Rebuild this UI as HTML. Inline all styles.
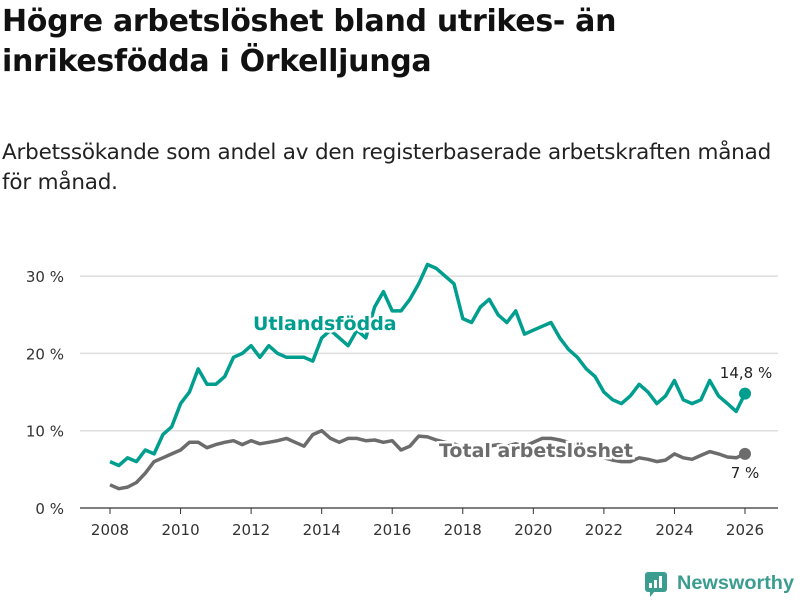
<!DOCTYPE html>
<html><head><meta charset="utf-8"><style>
body{margin:0;width:800px;height:600px;background:#fff;font-family:"Liberation Sans","DejaVu Sans",sans-serif;overflow:hidden;position:relative}
h1{position:absolute;left:2px;top:2px;margin:0;font-size:30px;line-height:40px;font-weight:bold;color:#111;font-family:"DejaVu Sans",sans-serif;letter-spacing:-0.3px}
.sub{position:absolute;left:2px;top:138px;font-size:21.5px;line-height:30px;color:#222;font-family:"DejaVu Sans",sans-serif;letter-spacing:-0.2px;white-space:nowrap}
svg{position:absolute;left:0;top:0}
</style></head><body>
<h1>Högre arbetslöshet bland utrikes- än<br>inrikesfödda i Örkelljunga</h1>
<div class="sub">Arbetssökande som andel av den registerbaserade arbetskraften månad<br>för månad.</div>
<svg id="c" width="800" height="600"></svg>
<script>
const years=[2008,2010,2012,2014,2016,2018,2020,2022,2024,2026];
const yTicks=[0,10,20,30];
const start=2008, step=0.25;
const foreign=[6,5.5,6.5,6,7.5,7,9.5,10.5,13.5,15,18,16,16,17,19.5,20,21,19.5,21,20,19.5,19.5,19.5,19,22,23,22,21,23,22,26,28,25.5,25.5,27,29,31.5,31,30,29,24.5,24,26,27,25,24,25.5,22.5,23,23.5,24,22,20.5,19.5,18,17,15,14,13.5,14.5,16,15,13.5,14.5,16.5,14,13.5,14,16.5,14.5,13.5,12.5,14.8];
const total=[3,2.5,2.7,3.3,4.5,6,6.5,7,7.5,8.5,8.5,7.8,8.2,8.5,8.7,8.2,8.7,8.3,8.5,8.7,9,8.5,8,9.5,10,9,8.5,9,9,8.7,8.8,8.5,8.7,7.5,8,9.3,9.2,8.8,8.5,8.3,7.8,7.5,7.8,8,8.2,8,8.3,8,8.5,9,9,8.8,8.5,8,7.5,7,6.5,6.2,6,6,6.5,6.3,6,6.2,7,6.5,6.3,6.8,7.3,7,6.6,6.5,7];
const X=y=>110+(y-2008)*(745-110)/18;
const Y=v=>508-v*7.73;
const svg=document.getElementById('c');
const NS='http://www.w3.org/2000/svg';
function mk(t,a,txt){const e=document.createElementNS(NS,t);for(const k in a)e.setAttribute(k,a[k]);if(txt!=null)e.textContent=txt;svg.appendChild(e);return e;}
yTicks.forEach(v=>{
 if(v>0){const g=mk('line',{x1:80,x2:778,y1:Y(v),y2:Y(v),stroke:'#ddd','stroke-width':1.5});
 
 }
 const t=mk('text',{x:64,y:Y(v)+6,'text-anchor':'end','font-size':15,fill:'#333','font-family':'DejaVu Sans,sans-serif'},v+' %');
 
 
});
const ax=mk('line',{x1:80,x2:778,y1:508,y2:508,stroke:'#333','stroke-width':1.2});


years.forEach(y=>{
 const tk=mk('line',{x1:X(y),x2:X(y),y1:508,y2:514,stroke:'#333'});
 
 
 const t=mk('text',{x:X(y),y:535,'text-anchor':'middle','font-size':15,fill:'#333','font-family':'DejaVu Sans,sans-serif'},y);
 
 
});
function line(arr,col,name){
 const d=arr.map((v,i)=>(i?'L':'M')+X(start+i*step).toFixed(1)+','+Y(v).toFixed(1)).join('');
 const p=mk('path',{d:d,fill:'none',stroke:col,'stroke-width':3.5,'stroke-linejoin':'round'});
 
 
 const n=arr.length-1;
 const c=mk('circle',{cx:X(start+n*step),cy:Y(arr[n]),r:6,fill:col});
 
 
}
line(total,'#6c6c6c','total-line');
line(foreign,'#009e8e','foreign-line');
const l1=mk('text',{x:253,y:330,'font-size':19,'font-weight':'bold',fill:'#009e8e',stroke:'#fff','stroke-width':5,'paint-order':'stroke','font-family':'DejaVu Sans,sans-serif'},'Utlandsfödda');


const l2=mk('text',{x:439,y:457,'font-size':19,'font-weight':'bold',fill:'#6c6c6c',stroke:'#fff','stroke-width':5,'paint-order':'stroke','font-family':'DejaVu Sans,sans-serif'},'Total arbetslöshet');


const v1=mk('text',{x:746,y:378,'text-anchor':'middle','font-size':15,fill:'#222','font-family':'DejaVu Sans,sans-serif'},'14,8 %');


const v2=mk('text',{x:745,y:478,'text-anchor':'middle','font-size':15,fill:'#222','font-family':'DejaVu Sans,sans-serif'},'7 %');


</script>
<svg width="800" height="600" style="pointer-events:none">
<rect x="645" y="572" width="22" height="20" rx="3" fill="#3a9d90"/>
<polygon points="650,591 655,591 650,597" fill="#3a9d90"/>
<rect x="649" y="583" width="3" height="5" fill="#fff"/><rect x="654" y="580" width="3" height="8" fill="#fff"/><rect x="659" y="576" width="3" height="12" fill="#fff"/>
<text x="677" y="589" font-size="19" font-weight="bold" fill="#3a9d90" font-family="Liberation Sans,sans-serif" textLength="117" lengthAdjust="spacingAndGlyphs">Newsworthy</text>
</svg>
</body></html>
